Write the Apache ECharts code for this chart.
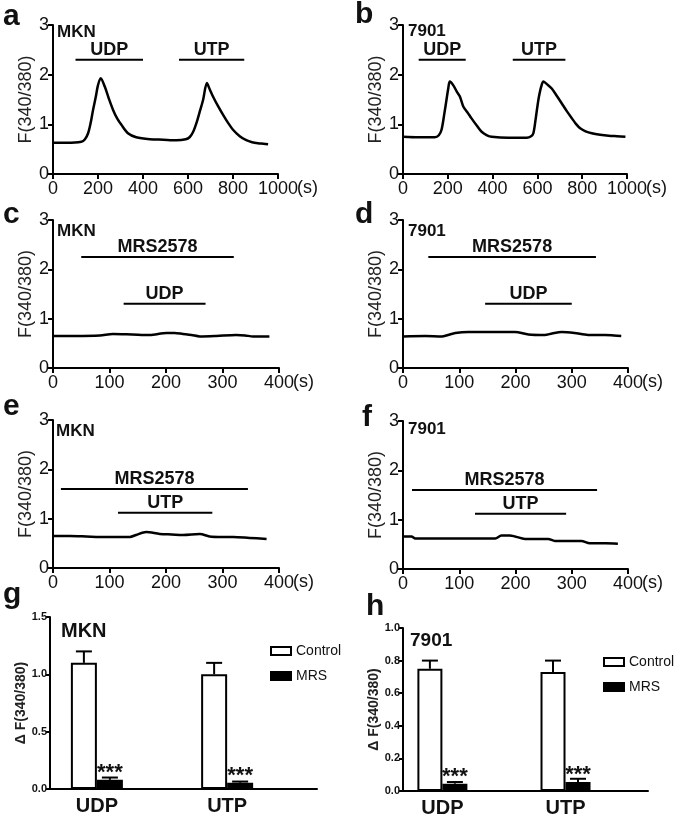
<!DOCTYPE html>
<html><head><meta charset="utf-8">
<script src="https://cdn.jsdelivr.net/npm/echarts@6/dist/echarts.min.js"></script>
<style>html,body{margin:0;padding:0;background:#fff}#c{width:675px;height:823px}</style>
</head><body><div id="c"></div><script>
// ---- data: calcium traces (time s, F340/380) ----
const traceA = [[0,0.63],[60,0.63],[126,0.65],[142,0.70],[156,0.82],[167,1.02],[178,1.29],[190,1.55],[200,1.79],[212,1.93],[230,1.76],[248,1.52],[267,1.29],[285,1.12],[304,0.99],[333,0.82],[370,0.74],[430,0.70],[490,0.69],[548,0.68],[590,0.70],[607,0.74],[622,0.84],[637,1.02],[652,1.25],[667,1.49],[684,1.83],[697,1.70],[711,1.56],[733,1.37],[756,1.19],[778,1.03],[800,0.89],[830,0.76],[859,0.68],[885,0.64],[911,0.62],[935,0.61],[956,0.60]];
const traceB = [[0,0.75],[70,0.74],[142,0.74],[160,0.78],[172,0.89],[184,1.20],[194,1.49],[202,1.72],[209,1.86],[224,1.79],[240,1.66],[254,1.56],[269,1.36],[288,1.24],[306,1.12],[330,0.97],[351,0.85],[375,0.78],[396,0.75],[470,0.73],[552,0.73],[572,0.76],[582,0.82],[592,1.10],[600,1.36],[607,1.56],[617,1.76],[627,1.86],[645,1.80],[664,1.72],[687,1.57],[709,1.42],[732,1.26],[754,1.12],[772,1.01],[791,0.92],[815,0.86],[843,0.82],[880,0.79],[918,0.77],[955,0.76],[993,0.75]];
const traceC = [[0,0.65],[40,0.65],[83,0.66],[106,0.69],[140,0.68],[171,0.67],[201,0.71],[215,0.71],[230,0.69],[245,0.67],[260,0.64],[289,0.65],[324,0.67],[340,0.66],[354,0.64],[383,0.64]];
const traceD = [[0,0.64],[40,0.65],[69,0.64],[80,0.67],[93,0.71],[116,0.73],[160,0.73],[199,0.73],[223,0.68],[252,0.67],[265,0.70],[282,0.73],[305,0.71],[329,0.67],[359,0.67],[375,0.66],[388,0.65]];
const traceE = [[0,0.65],[30,0.65],[59,0.64],[83,0.63],[110,0.63],[136,0.63],[147,0.67],[165,0.73],[189,0.69],[210,0.68],[230,0.67],[260,0.69],[277,0.64],[300,0.63],[319,0.63],[348,0.61],[378,0.59]];
const traceF = [[0,0.66],[15,0.66],[22,0.62],[80,0.62],[164,0.62],[175,0.68],[190,0.68],[199,0.66],[217,0.61],[258,0.61],[270,0.57],[317,0.57],[332,0.52],[360,0.52],[382,0.51]];

// treatment periods: [label, start s, end s, level]
const treatA = [['UDP',100,400,2.3],['UTP',560,850,2.3]];
const treatB = [['UDP',70,280,2.3],['UTP',490,725,2.3]];
const treatC = [['MRS2578',50,320,2.25],['UDP',125,270,1.3]];
const treatD = [['MRS2578',45,343,2.25],['UDP',146,300,1.3]];
const treatE = [['MRS2578',14,345,1.6],['UTP',115,282,1.12]];
const treatF = [['MRS2578',16,345,1.6],['UTP',128,290,1.12]];

// ---- data: summary bars ----
const barCats = ['UDP','UTP'];
const gControl = [1.10,1.00], gControlErr = [1.20,1.10];
const gMRS = [0.08,0.055], gMRSErr = [0.10,0.065];
const hControl = [0.75,0.73], hControlErr = [0.80,0.80];
const hMRS = [0.045,0.055], hMRSErr = [0.055,0.075];

const FONT = '"Liberation Sans", Arial, sans-serif';
const INK = '#111';

const grids = [
  {left:53, top:25, width:225, height:149},
  {left:403, top:25, width:224, height:149},
  {left:53, top:220, width:226, height:148},
  {left:403, top:220, width:225, height:148},
  {left:53, top:420, width:226, height:148},
  {left:403, top:421, width:225, height:148},
  {left:50, top:617, width:267, height:172},
  {left:403, top:628, width:245, height:163}
];

function lineX(i, max, interval, gap){
  return {gridIndex:i, type:'value', min:0, max:max, interval:interval,
    axisLine:{show:true, onZero:false, lineStyle:{color:'#000', width:2}},
    axisTick:{show:true, length:5, lineStyle:{color:'#000', width:2}},
    axisLabel:{fontSize:18, fontFamily:FONT, color:INK, margin:6, formatter:v=>String(v)},
    splitLine:{show:false},
    name:'(s)', nameLocation:'end', nameGap:gap, nameMoveOverlap:false,
    nameTextStyle:{fontSize:18, fontFamily:FONT, color:INK, verticalAlign:'top', padding:[5,0,0,0]}};
}
function lineY(i){
  return {gridIndex:i, type:'value', min:0, max:3, interval:1,
    axisLine:{show:true, onZero:false, lineStyle:{color:'#000', width:2}},
    axisTick:{show:true, length:5, lineStyle:{color:'#000', width:2}},
    axisLabel:{fontSize:18, fontFamily:FONT, color:INK, margin:4},
    splitLine:{show:false},
    name:'F(340/380)', nameLocation:'middle', nameGap:18,
    nameTextStyle:{fontSize:18, fontFamily:FONT, color:'#222'}};
}
function traceSeries(i, data){
  return {type:'line', xAxisIndex:i, yAxisIndex:i, data:data, showSymbol:false, smooth:0.3,
    lineStyle:{color:'#000', width:2.5}, silent:true, animation:false};
}
function treatSeries(i, list){
  return {type:'custom', xAxisIndex:i, yAxisIndex:i, silent:true, animation:false, z:5,
    data:list.map(d=>[d[1],d[2],d[3]]),
    renderItem:function(params, api){
      const s = api.coord([api.value(0), api.value(2)]);
      const e = api.coord([api.value(1), api.value(2)]);
      return {type:'group', children:[
        {type:'line', shape:{x1:s[0],y1:s[1],x2:e[0],y2:e[1]}, style:{stroke:'#000', lineWidth:2}},
        {type:'text', style:{x:(s[0]+e[0])/2, y:s[1]-1, text:list[params.dataIndex][0],
          font:'bold 18px '+FONT, fill:INK, align:'center', verticalAlign:'bottom'}}
      ]};
    }};
}

function barX(i, min, max){
  return {gridIndex:i, type:'value', min:min, max:max,
    axisLine:{show:true, onZero:false, lineStyle:{color:'#000', width:2}},
    axisTick:{show:false}, splitLine:{show:false},
    axisLabel:{customValues:[0,1], formatter:v=>barCats[Math.round(v)], fontSize:20, fontWeight:'bold', fontFamily:FONT, color:INK, margin:7}};
}
function barY(i, max, interval){
  return {gridIndex:i, type:'value', min:0, max:max, interval:interval,
    axisLine:{show:true, onZero:false, lineStyle:{color:'#000', width:2}},
    axisTick:{show:true, length:4, lineStyle:{color:'#000', width:2}},
    axisLabel:{fontSize:11, fontWeight:'bold', fontFamily:FONT, color:INK, margin:3, formatter:v=>v.toFixed(1)},
    splitLine:{show:false},
    name:'\u0394 F(340/380)', nameLocation:'middle', nameGap:21,
    nameTextStyle:{fontSize:14, fontWeight:'bold', fontFamily:FONT, color:'#222'}};
}
function barSeries(i, name, vals, fill, bw){
  return {type:'bar', name:name, xAxisIndex:i, yAxisIndex:i, data:vals.map((v,k)=>[k,v]),
    barWidth:bw, barGap:'0%', animation:false,
    itemStyle:{color:fill, borderColor:'#000', borderWidth:2},
    label: name==='MRS' ? {show:true, position:'top', formatter:'***', fontSize:22, fontWeight:'bold', fontFamily:FONT, color:INK, distance:-4} : {show:false}};
}
function errSeries(i, vals, errs, off){
  return {type:'custom', xAxisIndex:i, yAxisIndex:i, silent:true, animation:false, z:4,
    data:vals.map((v,k)=>[k,v,errs[k]]),
    renderItem:function(params, api){
      const b = api.coord([api.value(0), api.value(1)]);
      const t = api.coord([api.value(0), api.value(2)]);
      const x = b[0]+off;
      return {type:'group', children:[
        {type:'line', shape:{x1:x,y1:b[1],x2:x,y2:t[1]}, style:{stroke:'#000', lineWidth:2}},
        {type:'line', shape:{x1:x-8,y1:t[1],x2:x+8,y2:t[1]}, style:{stroke:'#000', lineWidth:2}}
      ]};
    }};
}

const traces = [traceA, traceB, traceC, traceD, traceE, traceF];
const treats = [treatA, treatB, treatC, treatD, treatE, treatF];
const xAxes = [], yAxes = [], series = [];
for (let i=0;i<6;i++){
  xAxes.push(i<2 ? lineX(i,1000,200,19) : lineX(i,400,100,14));
  yAxes.push(lineY(i));
  series.push(traceSeries(i, traces[i]));
  series.push(treatSeries(i, treats[i]));
}
xAxes.push(barX(6,-0.36,1.69)); yAxes.push(barY(6,1.5,0.5));
xAxes.push(barX(7,-0.32,1.67)); yAxes.push(barY(7,1.0,0.2));
const BWG = 26, BWH = 25;
series.push(barSeries(6,'Control',gControl,'#fff',BWG));
series.push(barSeries(6,'MRS',gMRS,'#000',BWG));
series.push(errSeries(6,gControl,gControlErr,-BWG/2));
series.push(errSeries(6,gMRS,gMRSErr,BWG/2));
series.push(barSeries(7,'Control',hControl,'#fff',BWH));
series.push(barSeries(7,'MRS',hMRS,'#000',BWH));
series.push(errSeries(7,hControl,hControlErr,-BWH/2));
series.push(errSeries(7,hMRS,hMRSErr,BWH/2));

const legendData = [
  {name:'Control', itemStyle:{color:'#fff', borderColor:'#000', borderWidth:2}},
  {name:'MRS', itemStyle:{color:'#000', borderColor:'#000', borderWidth:2}}
];
function legend(left, top){
  return {left:left, top:top, orient:'vertical', icon:'rect', itemWidth:20, itemHeight:8, itemGap:11,
    selectedMode:false, data:legendData, textStyle:{fontSize:14, fontFamily:FONT, color:INK}};
}

function txt(x, y, s, size, weight){
  return {type:'text', x:x, y:y, silent:true,
    style:{text:s, font:(weight||'bold')+' '+size+'px '+FONT, fill:INK, verticalAlign:'middle', align:'left'}};
}
const graphics = [
  txt(3,17,'a',30), txt(355,15,'b',30), txt(3,215,'c',30), txt(355,215,'d',30),
  txt(3,407,'e',30), txt(362,418,'f',30), txt(3,595,'g',30), txt(366,607,'h',30),
  txt(57,32,'MKN',17), txt(408,31,'7901',17), txt(57,231,'MKN',17), txt(408,231,'7901',17),
  txt(56,431,'MKN',17), txt(408,429,'7901',17), txt(61,631,'MKN',20), txt(410,641,'7901',19)
];

const chart = echarts.init(document.getElementById('c'), null, {renderer:'canvas'});
chart.setOption({
  animation:false, backgroundColor:'#fff',
  grid:grids, xAxis:xAxes, yAxis:yAxes, series:series,
  legend:[legend(265,639), legend(598,650)],
  graphic:graphics
});
</script></body></html>
